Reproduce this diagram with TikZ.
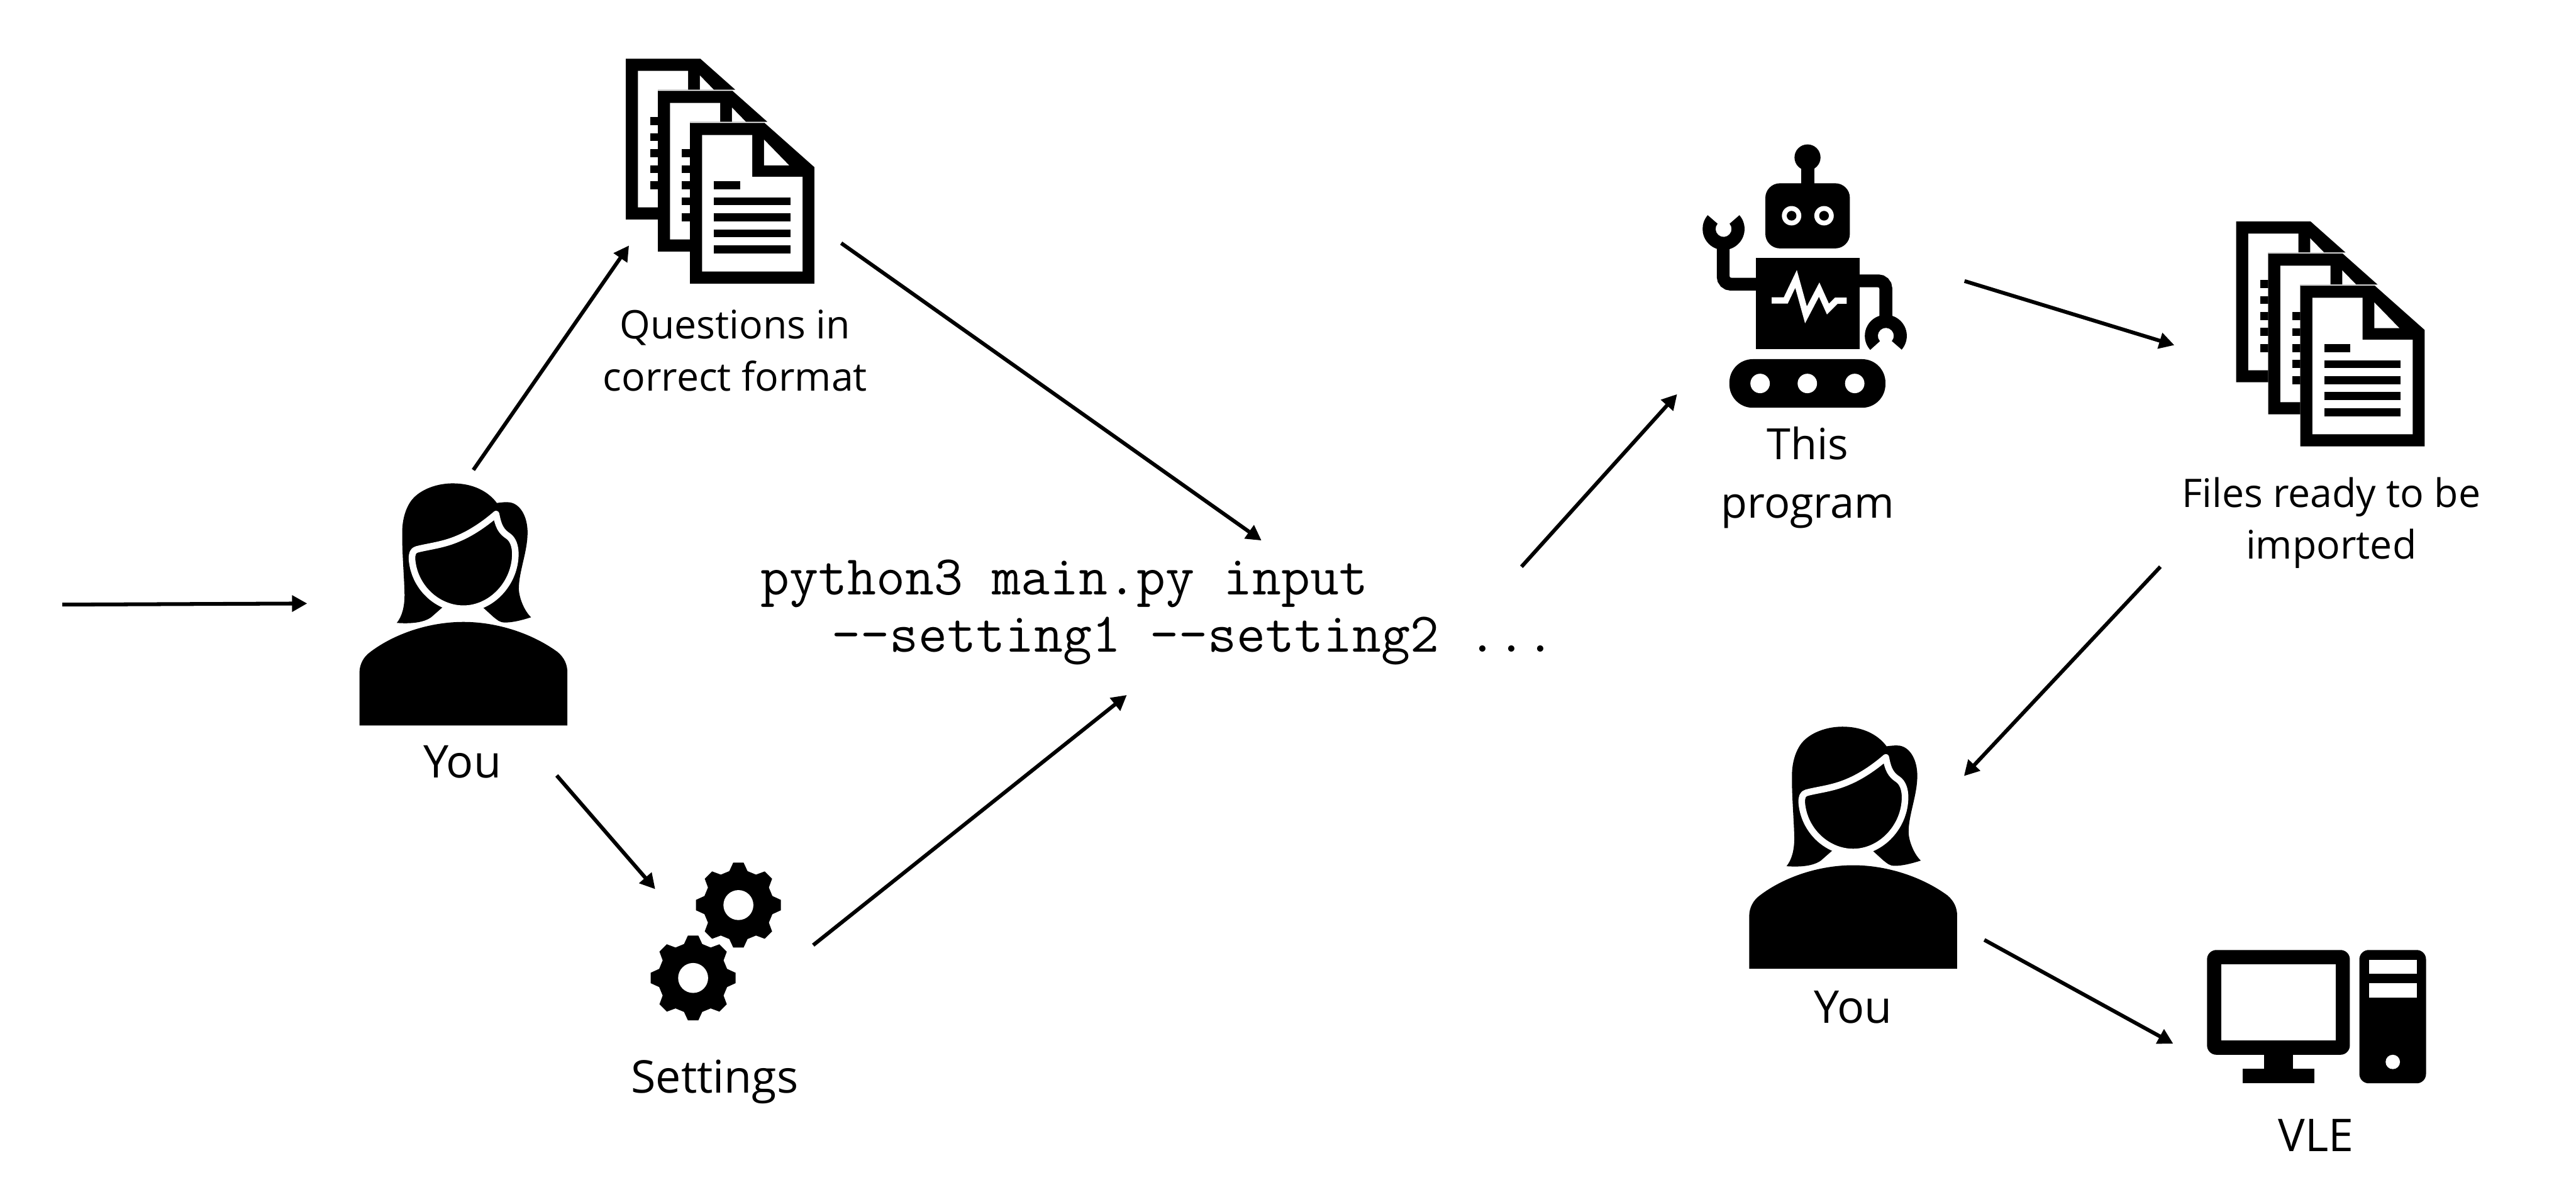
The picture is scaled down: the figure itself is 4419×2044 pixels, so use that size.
\documentclass[tikz,border=0pt]{standalone}
\usepackage{fontspec}
\setmainfont{Open Sans}
\usetikzlibrary{arrows.meta}
\newcommand{\docpage}{%
  \fill (0,0) -- (127.8,0) -- (213.2,75.8) -- (213.2,275.5) -- (0,275.5) -- cycle;
  \fill[white] (20.7,20.7) -- (106.8,20.7) -- (106.8,92.6) -- (192.9,92.6) -- (192.9,254.9) -- (20.7,254.9) -- cycle;
  \fill[white] (127,28.7) -- (169.9,72.7) -- (127,72.7) -- cycle;
  \fill (41.3,100.3) rectangle (86.1,113.7);
  \fill (41.3,127.8) rectangle (172.2,141.2);
  \fill (41.3,155.1) rectangle (172.2,168.8);
  \fill (41.3,182.6) rectangle (172.2,196.4);
  \fill (41.3,210.2) rectangle (172.2,223.9);
}
\newcommand{\docmask}{\clip (-1,-1) -- (300,-1) -- (300,53) -- (55,53) -- (55,300) -- (-1,300) -- cycle;}
\tikzset{
  flow/.style={line width=.065cm,-{Triangle[length=.26cm,width=.27cm]}},
  biglabel/.style={anchor=base,inner sep=0pt,font=\fontsize{22}{28.5}\selectfont,align=center},
  proglabelstyle/.style={anchor=base,inner sep=0pt,font=\fontsize{21}{28.5}\selectfont,align=center},
  smalllabel/.style={anchor=base,inner sep=0pt,font=\fontsize{19.2}{25.3}\selectfont,align=center},
  codeline/.style={anchor=base west,inner sep=0pt,font=\ttfamily\fontsize{27.4}{32}\selectfont},
  pics/docicon/.style={code={
    \begin{scope}\docmask\docpage\end{scope}
    \begin{scope}[shift={(55,55)}]\docmask\docpage\end{scope}
    \begin{scope}[shift={(110,110)}]\docpage\end{scope}
  }},
  pics/personicon/.style={code={
    \begin{scope}[scale=0.33333]
    \fill (362,805) .. controls (390,770) and (402,720) .. (402,660) .. controls (400,560) and (388,440) .. (390,330) .. controls (392,250) and (420,190) .. (450,160) .. controls (500,110) and (580,87) .. (650,87) .. controls (750,87) and (830,125) .. (877,188) .. controls (900,185) and (925,182) .. (945,185) .. controls (1000,195) and (1035,260) .. (1035,340) .. controls (1035,440) and (990,540) .. (990,630) .. controls (992,680) and (1020,745) .. (1053,776) .. controls (1010,790) and (960,803) .. (920,803) .. controls (890,803) and (880,790) .. (860,775) -- (805,725) -- (597,725) -- (540,775) .. controls (500,805) and (430,810) .. (362,805) -- cycle;
    \filldraw[fill=black,draw=white,line width=.113cm,line join=round] (873,245) .. controls (810,300) and (740,345) .. (680,370) .. controls (600,405) and (530,410) .. (465,427) .. controls (445,432) and (440,450) .. (440,475) .. controls (450,620) and (570,732) .. (705,732) .. controls (850,732) and (972,600) .. (972,450) .. controls (972,410) and (960,375) .. (935,358) .. controls (900,335) and (885,310) .. (873,245) -- cycle;
    \fill (170,1333) -- (170,1060) .. controls (170,1020) and (190,980) .. (225,955) .. controls (350,860) and (530,800) .. (705,800) .. controls (880,800) and (1060,860) .. (1190,955) .. controls (1225,985) and (1240,1020) .. (1240,1060) -- (1240,1333) -- cycle;
    \end{scope}
  }},
  pics/gearicon/.style={code={
    \fill (75:60.3) foreach \t in {0,45,...,315} { -- ({\t+75}:60.3) -- ({\t+83}:73.3) -- ({\t+97}:73.3) -- ({\t+105}:60.3) } -- cycle;
    \fill[white] (0,0) circle (25.7);
  }},
  pics/roboticon/.style={code={
    \begin{scope}[scale=0.33333]
    \fill (662,150) circle (67);
    \fill (628,180) rectangle (696,300);
    \fill[rounded corners=.25cm] (445,283) rectangle (880,618);
    \fill[white] (580,450) circle (50);
    \fill[white] (747,450) circle (50);
    \fill (580,450) circle (25);
    \fill (747,450) circle (25);
    \fill (395,668) rectangle (931,1137);
    \draw[white,line width=.107cm,miter limit=10] (478,886) -- (550,886) -- (603,775) -- (654,960) -- (722,830) -- (767,930) -- (810,887) -- (864,887);
    \draw[line width=.22cm,rounded corners=.13cm] (400,802) -- (228,802) -- (228,600);
    \draw[line width=.22cm,rounded corners=.13cm] (926,785) -- (1065,785) -- (1065,985);
    \fill (230,518) ++(-41:41) -- ++(-41:67) arc (-41:221:108) -- ++(221:-67) arc (221:-41:41) -- cycle;
    \fill (1065,1068) ++(41:41) -- ++(41:67) arc (41:-222:108) -- ++(-222:-67) arc (-222:41:41) -- cycle;
    \fill[rounded corners=.4cm] (260,1188) rectangle (1063,1438);
    \fill[white] (418,1313) circle (50);
    \fill[white] (661,1313) circle (50);
    \fill[white] (905,1313) circle (50);
    \end{scope}
  }},
  pics/computericon/.style={code={
    \begin{scope}[scale=0.33333]
    \fill[rounded corners=.16cm] (78,88) rectangle (813,627);
    \fill[white] (152,162) rectangle (740,553);
    \fill (373,620) rectangle (520,705);
    \fill (262,700) rectangle (630,774);
    \fill[rounded corners=.16cm] (862,88) rectangle (1205,774);
    \fill[white] (911,138) rectangle (1157,211);
    \fill[white] (911,260) rectangle (1157,333);
    \fill[white] (1034,664) circle (37);
    \end{scope}
  }}
}
\begin{document}
\begin{tikzpicture}[x=0.01cm,y=0.01cm,yscale=-1]
\fill[white] (0,0) rectangle (4419,2044);
\useasboundingbox (0,0) rectangle (4419,2044);

\pic[transform shape] (docsa) at (1073.7,100.8) {docicon};
\pic[transform shape] (docsb) at (3836,380) {docicon};
\pic[transform shape] (persona) at (560,800) {personicon};
\pic[transform shape] (personb) at (2944,1217.3) {personicon};
\pic[transform shape] (geara) at (1266.7,1552.3) {gearicon};
\pic[transform shape] (gearb) at (1189,1677.3) {gearicon};
\pic[transform shape] (robot) at (2880,220) {roboticon};
\pic[transform shape] (computer) at (3760,1600) {computericon};

\node[smalllabel] (qlabel) at (1261,670) {Questions in\\correct format};
\node[biglabel] (youa) at (793,1334) {You};
\node[biglabel] (settings) at (1226,1874) {Settings};
\node[proglabelstyle] (proglabel) at (3101,888) {This\\program};
\node[smalllabel] (fileslabel) at (3999,959) {Files ready to be\\imported};
\node[biglabel] (youb) at (3179,1755) {You};
\node[biglabel] (vle) at (3973,1975) {VLE};
\node[codeline] (cmda) at (1304,1020) {python3 main.py input};
\node[codeline] (cmdb) at (1426,1118) {-{}-setting1 -{}-setting2 ...};

\coordinate (s1) at (107,1037); \coordinate (e1) at (527,1035);
\coordinate (s2) at (812,806); \coordinate (e2) at (1079,421);
\coordinate (s3) at (955,1330); \coordinate (e3) at (1124,1525);
\coordinate (s4) at (1443,417); \coordinate (e4) at (2164,927);
\coordinate (s5) at (1395,1621); \coordinate (e5) at (1933,1192);
\coordinate (s6) at (2610,972); \coordinate (e6) at (2877,676);
\coordinate (s7) at (3370,482); \coordinate (e7) at (3730,592);
\coordinate (s8) at (3706,972); \coordinate (e8) at (3369,1331);
\coordinate (s9) at (3404,1612); \coordinate (e9) at (3728,1790);
\foreach \n in {1,...,9} \draw[flow] (s\n) -- (e\n);
\end{tikzpicture}
\end{document}
